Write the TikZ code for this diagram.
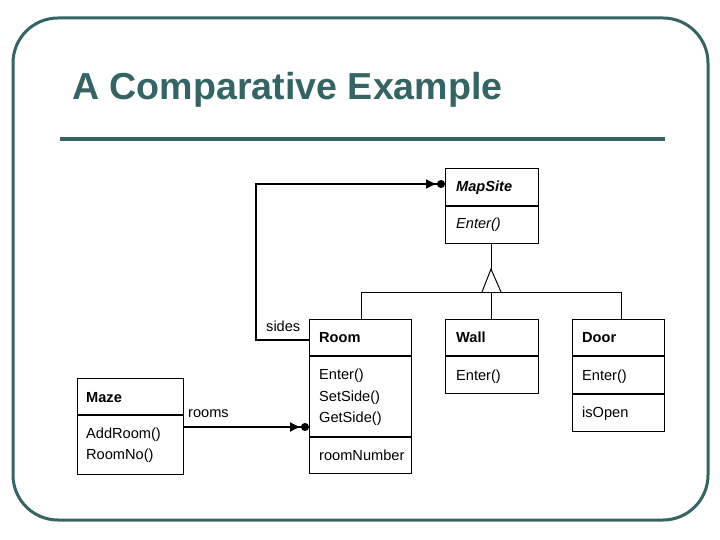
\documentclass[tikz,border=0pt]{standalone}
\usepackage{fontspec}
\setmainfont{Liberation Sans}
\usetikzlibrary{arrows.meta}
\definecolor{teal}{RGB}{52,100,100}
\tikzset{
  cls/.style={draw=black, line width=1.3pt, anchor=north west, inner sep=0pt},
  txt/.style={anchor=base west, inner sep=0pt, font=\fontsize{14.6}{16}\selectfont},
  conn/.style={draw=black, line width=1.4pt},
  agg/.style={conn, -{Latex[length=11pt,width=10pt] Circle[length=8pt]}},
}
\begin{document}
\begin{tikzpicture}[x=1pt,y=-1pt]
\useasboundingbox (0,0) rectangle (720,540);
% frame
\draw[teal, line width=3pt, rounded corners=45pt] (13,18) rectangle (708,520);
\node[anchor=base west, inner sep=0pt, text=teal, font=\fontsize{37.6}{40}\selectfont\bfseries] (title) at (72,100) {A Comparative Example};
\draw[teal, line width=4pt] (60,139) -- (665,139);

% boxes
\node[cls, minimum width=93pt, minimum height=75pt] (mapsite) at (445,168) {};
\draw[line width=1.3pt] (445,206) -- (538,206);
\node[txt, font=\fontsize{14.6}{16}\selectfont\bfseries\itshape] (msname) at (456,192) {MapSite};
\node[txt, font=\fontsize{14.6}{16}\selectfont\itshape] (msenter) at (456,229) {Enter()};

\node[cls, minimum width=102pt, minimum height=154pt] (room) at (309,319) {};
\draw[line width=1.3pt] (309,356) -- (411,356);
\draw[line width=1.3pt] (309,437) -- (411,437);
\node[txt, font=\fontsize{14.6}{16}\selectfont\bfseries] (rname) at (319,342) {Room};
\node[txt] (renter) at (319,379) {Enter()};
\node[txt] (rset) at (319,401) {SetSide()};
\node[txt] (rget) at (319,422) {GetSide()};
\node[txt] (rnum) at (319,460) {roomNumber};

\node[cls, minimum width=93pt, minimum height=74pt] (wall) at (445,319) {};
\draw[line width=1.3pt] (445,356) -- (538,356);
\node[txt, font=\fontsize{14.6}{16}\selectfont\bfseries] (wname) at (456,342) {Wall};
\node[txt] (wenter) at (456,380) {Enter()};

\node[cls, minimum width=92pt, minimum height=112pt] (door) at (572,319) {};
\draw[line width=1.3pt] (572,356) -- (664,356);
\draw[line width=1.3pt] (572,394) -- (664,394);
\node[txt, font=\fontsize{14.6}{16}\selectfont\bfseries] (dname) at (582,342) {Door};
\node[txt] (denter) at (582,380) {Enter()};
\node[txt] (dopen) at (582,417) {isOpen};

\node[cls, minimum width=106pt, minimum height=96pt] (maze) at (77,378) {};
\draw[line width=1.3pt] (77,415) -- (183,415);
\node[txt, font=\fontsize{14.6}{16}\selectfont\bfseries] (mname) at (86,402) {Maze};
\node[txt] (madd) at (86,438) {AddRoom()};
\node[txt] (mno) at (86,459) {RoomNo()};

% inheritance
\coordinate (top) at (491,243);
\coordinate (apex) at (491,269);
\coordinate (bl) at (482,292);
\coordinate (br) at (501,292);
\draw[line width=1pt] (top) -- (apex);
\draw[line width=1pt] (bl) -- (apex) -- (br);
\draw[line width=1pt] (361,292) -- (621,292);
\draw[line width=1pt] (361,292) -- (room.north -| 361,0);
\draw[line width=1pt] (491,292) -- (wall.north -| 491,0);
\draw[line width=1pt] (621,292) -- (door.north -| 621,0);

% associations
\coordinate (sa) at (256,340);
\coordinate (sb) at (256,184);
\draw[agg] (room.west |- sa) -- (sa) -- (sb) -- (mapsite.west |- sb);
\node[txt] (sides) at (266,331) {sides};
\draw[agg] (maze.east |- 0,427) -- (room.west |- 0,427);
\node[txt] (rooms) at (188,417) {rooms};
\end{tikzpicture}
\end{document}
